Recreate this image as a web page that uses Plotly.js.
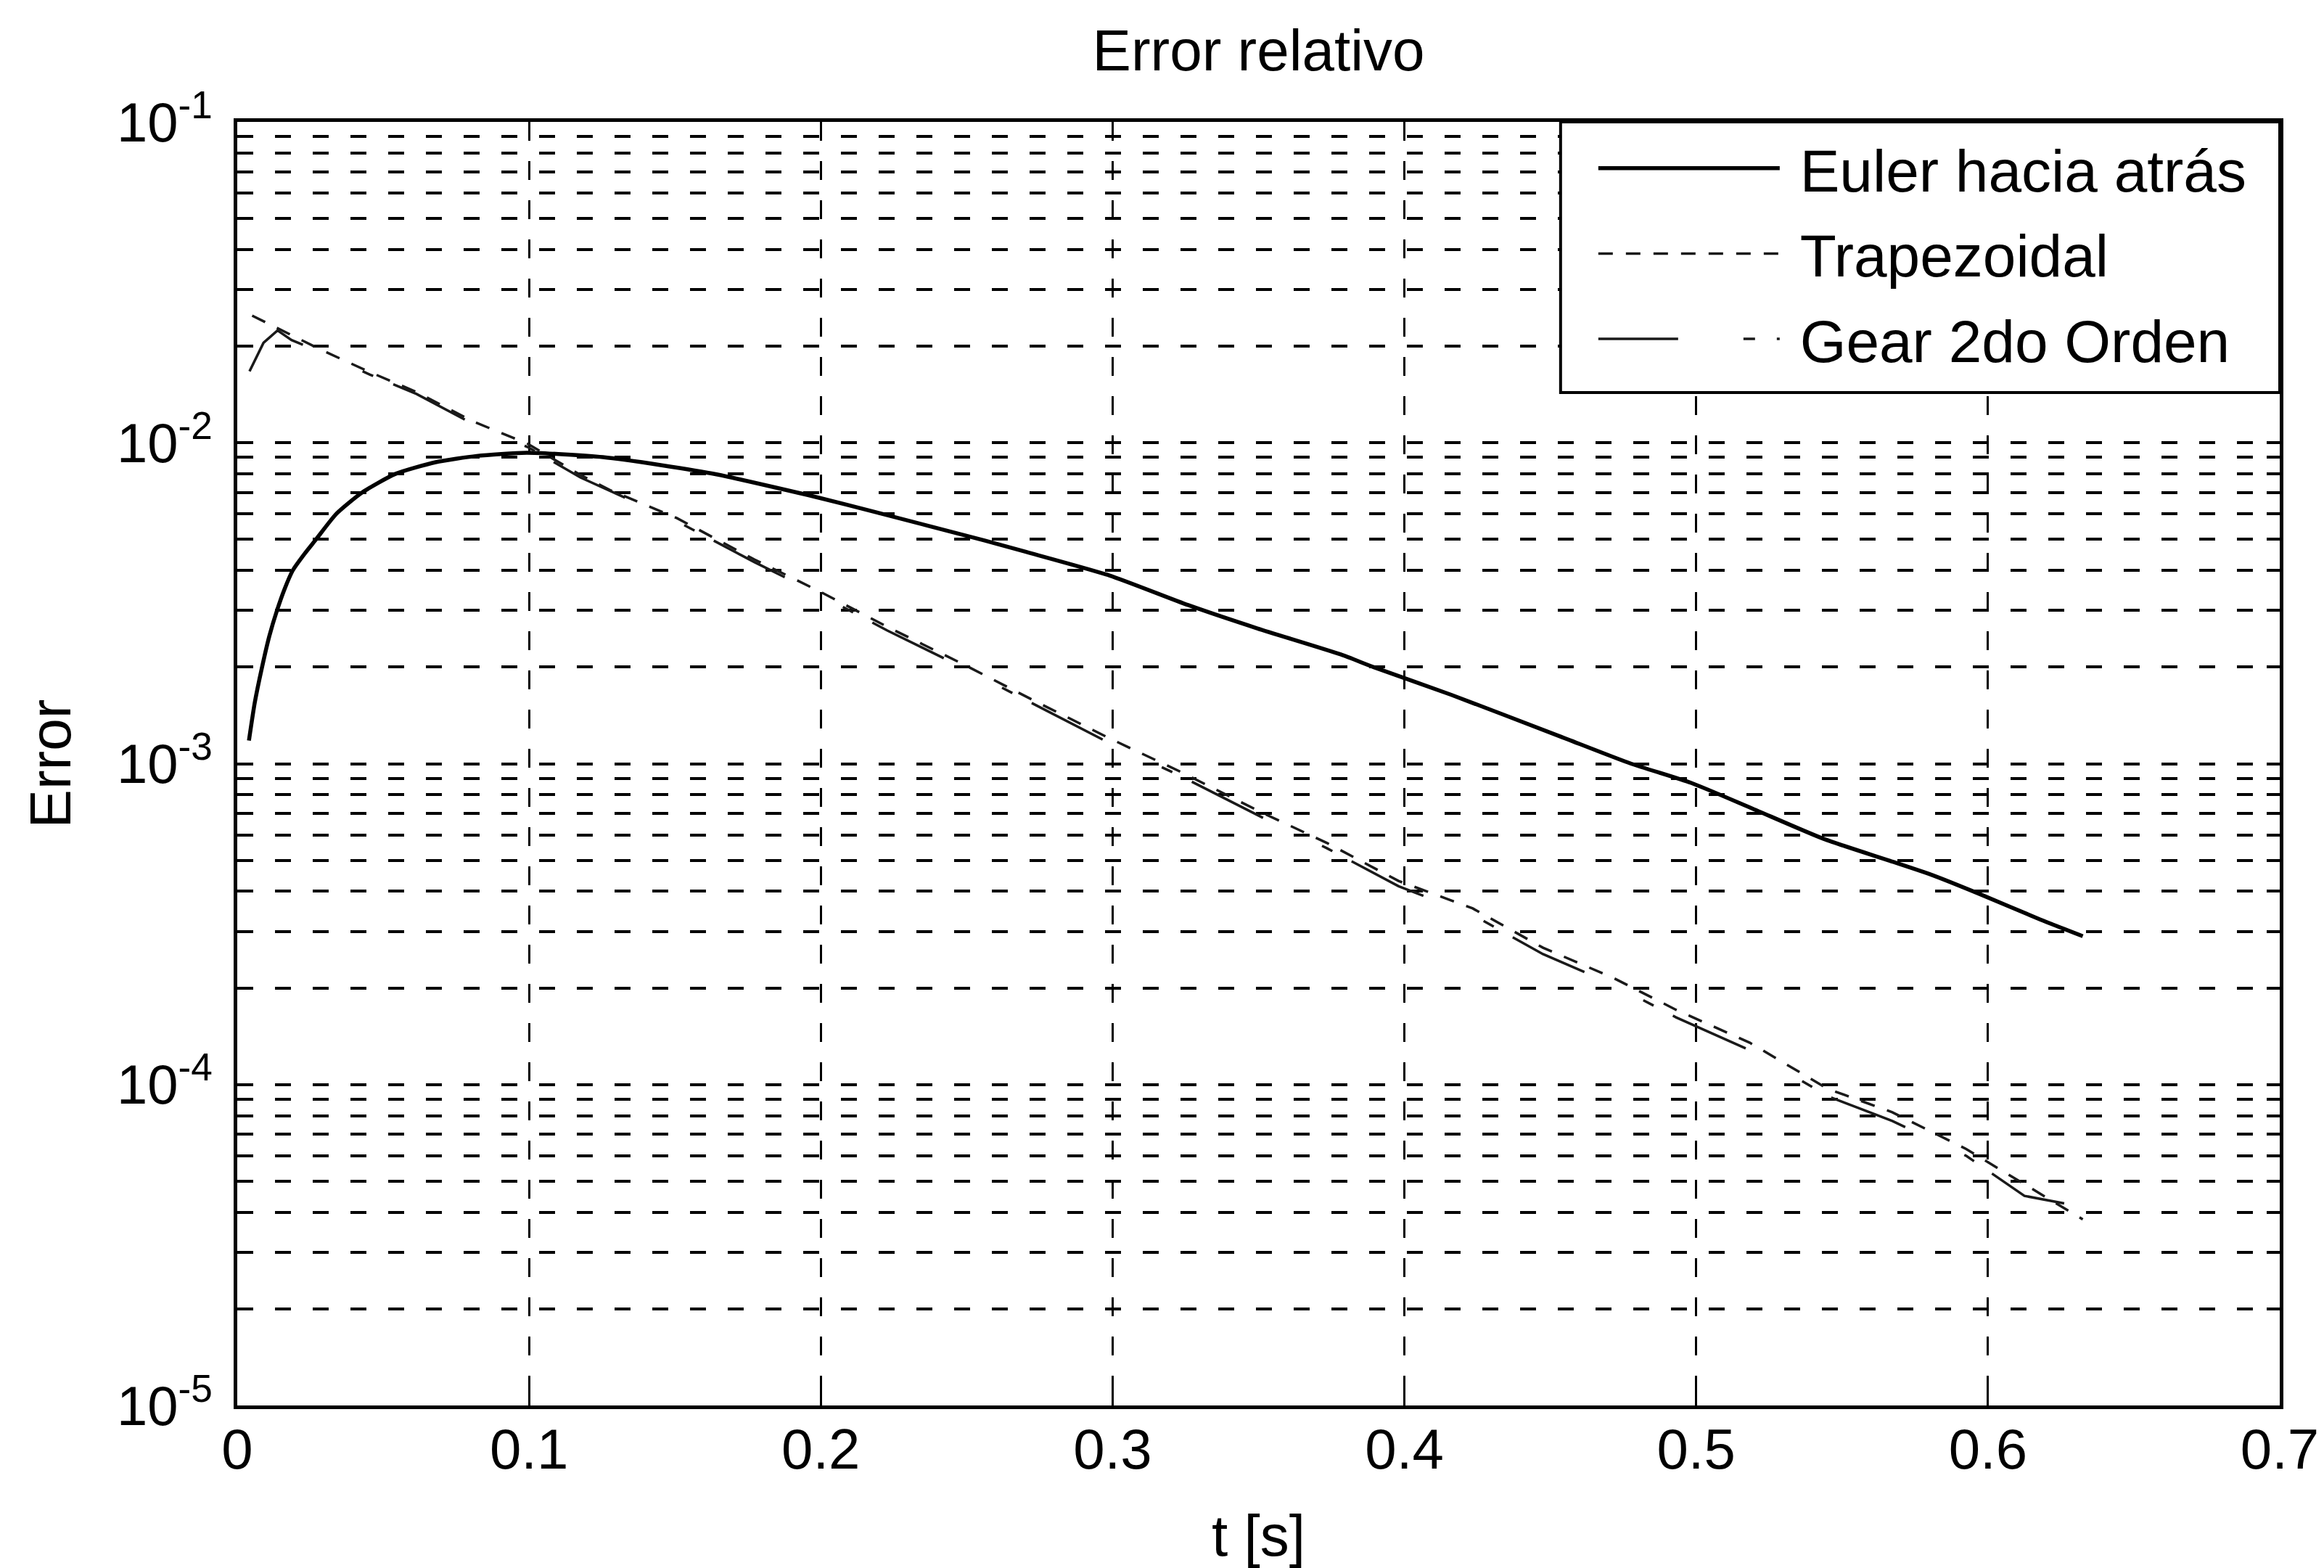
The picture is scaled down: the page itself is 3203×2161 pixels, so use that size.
<!DOCTYPE html>
<html>
<head>
<meta charset="utf-8">
<script src="https://cdn.plot.ly/plotly-3.0.1.min.js"></script>
<style>html,body{margin:0;padding:0;background:#fff;}#chart{width:3203px;height:2161px;}</style>
</head>
<body>
<div id="chart"></div>
<script>
// ---- Data ----
const eulerT = [0.0040, 0.0060, 0.0085, 0.0110, 0.0136, 0.0162, 0.0190, 0.0230, 0.0270, 0.0339, 0.0428, 0.0542, 0.0680, 0.0821, 0.0992, 0.1253, 0.1455, 0.1646, 0.1991, 0.2181, 0.2561, 0.2704, 0.2989, 0.3259, 0.3496, 0.3782, 0.3894, 0.4160, 0.4530, 0.4777, 0.4983, 0.5189, 0.5437, 0.5664, 0.5808, 0.5973, 0.6179, 0.6325];
const eulerErr = [1.18e-3, 1.55e-3, 2.00e-3, 2.50e-3, 3.00e-3, 3.50e-3, 4.00e-3, 4.50e-3, 5.00e-3, 6.00e-3, 7.00e-3, 8.00e-3, 8.70e-3, 9.10e-3, 9.31e-3, 9.02e-3, 8.51e-3, 7.96e-3, 6.75e-3, 6.10e-3, 4.96e-3, 4.57e-3, 3.86e-3, 3.12e-3, 2.64e-3, 2.19e-3, 2.00e-3, 1.64e-3, 1.22e-3, 1.00e-3, 8.71e-4, 7.27e-4, 5.83e-4, 4.98e-4, 4.50e-4, 3.92e-4, 3.27e-4, 2.90e-4];

const trapT = [0.0051, 0.0297, 0.0455, 0.0614, 0.0804, 0.0922, 0.0995, 0.1176, 0.1278, 0.1506, 0.1646, 0.1772, 0.1991, 0.2228, 0.2498, 0.2720, 0.2989, 0.3228, 0.3513, 0.3735, 0.3980, 0.4234, 0.4475, 0.4716, 0.4931, 0.5184, 0.5451, 0.5672, 0.5925, 0.6125, 0.6325];
const trapErr = [2.49e-2, 1.93e-2, 1.66e-2, 1.44e-2, 1.17e-2, 1.06e-2, 9.93e-3, 7.94e-3, 7.12e-3, 5.83e-3, 4.98e-3, 4.33e-3, 3.46e-3, 2.67e-3, 2.02e-3, 1.59e-3, 1.20e-3, 9.48e-4, 7.03e-4, 5.66e-4, 4.31e-4, 3.54e-4, 2.67e-4, 2.15e-4, 1.71e-4, 1.35e-4, 9.7e-5, 8.2e-5, 6.3e-5, 4.9e-5, 3.8e-5];

const gearT = [0.0042, 0.0090, 0.0138, 0.0186, 0.0297, 0.0455, 0.0614, 0.0804, 0.0995, 0.1176, 0.1506, 0.1772, 0.1991, 0.2228, 0.2498, 0.2720, 0.2989, 0.3228, 0.3513, 0.3735, 0.3980, 0.4234, 0.4475, 0.4716, 0.4931, 0.5184, 0.5451, 0.5672, 0.5925, 0.6125, 0.6300];
const gearErr = [1.67e-2, 2.05e-2, 2.24e-2, 2.09e-2, 1.90e-2, 1.63e-2, 1.42e-2, 1.15e-2, 9.7e-3, 7.8e-3, 5.7e-3, 4.25e-3, 3.38e-3, 2.60e-3, 1.97e-3, 1.55e-3, 1.16e-3, 9.2e-4, 6.8e-4, 5.45e-4, 4.15e-4, 3.38e-4, 2.55e-4, 2.05e-4, 1.62e-4, 1.28e-4, 9.2e-5, 7.7e-5, 6.0e-5, 4.5e-5, 4.2e-5];

const seriesNames = ['Euler hacia atrás', 'Trapezoidal', 'Gear 2do Orden'];

const xTickVals = [0, 0.1, 0.2, 0.3, 0.4, 0.5, 0.6, 0.7];
const xTickText = ['0', '0.1', '0.2', '0.3', '0.4', '0.5', '0.6', '0.7'];
const yDecades = [1e-5, 1e-4, 1e-3, 1e-2, 1e-1];
const yDecadeText = ['10<sup>-5</sup>', '10<sup>-4</sup>', '10<sup>-3</sup>', '10<sup>-2</sup>', '10<sup>-1</sup>'];
const minorDigits = [2, 3, 4, 5, 6, 7, 8, 9];

// tick/grid positions for the log axis (labels only on decades)
const yTickVals = [];
const yTickText = [];
yDecades.forEach((d, i) => {
  yTickVals.push(d); yTickText.push(yDecadeText[i]);
  if (i < yDecades.length - 1) {
    minorDigits.forEach(m => { yTickVals.push(d * m); yTickText.push(''); });
  }
});

const FONT = 'Liberation Sans, Arial, Helvetica, sans-serif';
const PAD = '\u00a0';

const traces = [
  { x: eulerT, y: eulerErr, name: PAD + seriesNames[0], legendgroup: 'g1', type: 'scatter', mode: 'lines',
    line: { color: '#000000', width: 5.5, dash: 'solid', shape: 'spline', smoothing: 0.6 } },
  { x: trapT, y: trapErr, name: PAD + seriesNames[1], legendgroup: 'g2', type: 'scatter', mode: 'lines',
    line: { color: '#1a1a1a', width: 3.5, dash: '20px,18px' } },
  { x: gearT, y: gearErr, name: PAD + seriesNames[2], legendgroup: 'g3', type: 'scatter', mode: 'lines',
    line: { color: '#1a1a1a', width: 3.5, dash: '110px,90px,16px,30px' } }
];

const layout = {
  width: 3203, height: 2161,
  paper_bgcolor: '#ffffff', plot_bgcolor: '#ffffff',
  margin: { l: 327, r: 61, t: 168, b: 224, pad: 0 },
  font: { family: FONT, size: 80, color: '#000000' },
  title: { text: 'Error relativo', font: { family: FONT, size: 80, color: '#000' },
           x: 0.5, xref: 'paper', xanchor: 'center', y: 0.968, yref: 'container', yanchor: 'middle' },
  showlegend: true,
  legend: {
    x: 0.6646, y: 0.9977, xref: 'paper', yref: 'paper', xanchor: 'left', yanchor: 'top',
    bgcolor: 'rgba(0,0,0,0)', borderwidth: 0,
    font: { family: FONT, size: 82, color: '#000' },
    itemwidth: 250, tracegroupgap: 8
  },
  shapes: [
    { type: 'rect', xref: 'paper', yref: 'paper', x0: 0.6479, x1: 1, y0: 0.7891, y1: 1,
      line: { color: '#000', width: 4 }, fillcolor: '#ffffff', layer: 'above' }
  ],
  xaxis: {
    type: 'linear', range: [0, 0.7], tickmode: 'array', tickvals: xTickVals, ticktext: xTickText,
    showline: true, linecolor: '#000', linewidth: 5, mirror: 'ticks',
    ticks: 'inside', ticklen: 22, tickwidth: 3, tickcolor: '#000',
    showgrid: true, gridcolor: '#000', gridwidth: 3, griddash: '26px,28px',
    zeroline: false, tickfont: { family: FONT, size: 78, color: '#000' },
    ticklabelstandoff: -12,
    title: { text: 't [s]', font: { family: FONT, size: 80, color: '#000' }, standoff: 65 }
  },
  yaxis: {
    type: 'log', range: [-5, -1], tickmode: 'array', tickvals: yTickVals, ticktext: yTickText,
    showline: true, linecolor: '#000', linewidth: 5, mirror: 'ticks',
    ticks: 'inside', ticklen: 18, tickwidth: 4, tickcolor: '#000',
    showgrid: true, gridcolor: '#000', gridwidth: 4, griddash: '22px,30px',
    zeroline: false, tickfont: { family: FONT, size: 76, color: '#000' },
    ticklabelstandoff: 14,
    title: { text: 'Error', font: { family: FONT, size: 80, color: '#000' }, standoff: 38 }
  }
};

Plotly.newPlot('chart', traces, layout, { staticPlot: true, displayModeBar: false });
</script>
</body>
</html>
